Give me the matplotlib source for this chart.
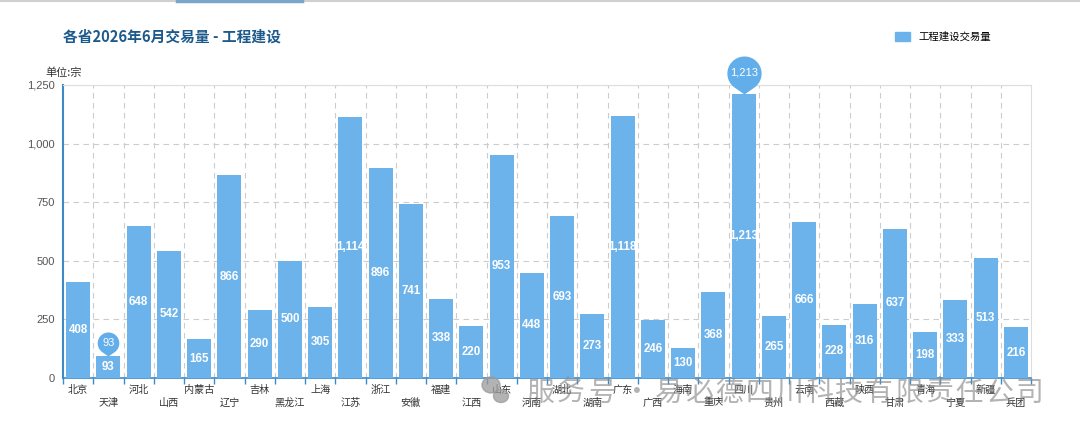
import matplotlib
matplotlib.use("Agg")
import matplotlib.pyplot as plt
import numpy as np
from matplotlib.path import Path
from matplotlib.lines import Line2D
from matplotlib.patches import Ellipse

plt.rcParams['font.family'] = ['Noto Sans CJK SC', 'DejaVu Sans']
NUMFONT = ['Liberation Sans', 'DejaVu Sans']

provinces = ["北京", "天津", "河北", "山西", "内蒙古", "辽宁", "吉林", "黑龙江", "上海", "江苏",
             "浙江", "安徽", "福建", "江西", "山东", "河南", "湖北", "湖南", "广东", "广西",
             "海南", "重庆", "四川", "贵州", "云南", "西藏", "陕西", "甘肃", "青海", "宁夏",
             "新疆", "兵团"]
values = [408, 93, 648, 542, 165, 866, 290, 500, 305, 1114,
          896, 741, 338, 220, 953, 448, 693, 273, 1118, 246,
          130, 368, 1213, 265, 666, 228, 316, 637, 198, 333,
          513, 216]
yticks = [0, 250, 500, 750, 1000, 1250]

title = "各省2026年6月交易量 - 工程建设"
series_name = "工程建设交易量"
unit = "单位:宗"
watermark_a = "服务号"
watermark_b = "易必德四川科技有限责任公司"

bar_color = "#6cb3ec"
pin_color = "#62aeea"
title_color = "#1d5a8c"

fig = plt.figure(figsize=(10.8, 4.36), dpi=100)
ax = fig.add_axes([63/1080, 1 - 378/436, (1031-63)/1080, (378-85)/436])

n = len(values)
x = np.arange(n)
ax.bar(x, values, width=0.8, color=bar_color, zorder=3)
ax.set_xlim(-0.5, n - 0.5)
ax.set_ylim(0, 1250)

# value labels
for xi, v in zip(x, values):
    ax.text(xi, v / 2, f"{v:,}", ha="center", va="center", color="white",
            fontsize=8.3, fontweight="bold", family=NUMFONT, zorder=5)

# grid
ax.set_yticks(yticks)
ax.set_yticklabels([f"{t:,}" for t in yticks], fontsize=8, color="#555555", family=NUMFONT)
for t in yticks[1:]:
    ax.axhline(t, color="#cccccc", lw=0.8, ls=(0, (5, 4)), zorder=1)
for b in np.arange(0.5, n - 0.5, 1):
    ax.axvline(b, color="#cccccc", lw=0.8, ls=(0, (5, 4)), zorder=1)

ax.tick_params(axis="y", length=0, pad=6)
ax.set_xticks(x)
ax.set_xticklabels([p if i % 2 == 0 else "\n" + p for i, p in enumerate(provinces)],
                   fontsize=7.3, color="#333333", linespacing=1.35)
ax.tick_params(axis="x", which="major", length=0, pad=5)
ax.set_xticks(np.arange(-0.5, n, 1), minor=True)
ax.tick_params(axis="x", which="minor", length=4, color="#3c8bc8", width=1)

for s in ["top", "right"]:
    ax.spines[s].set_color("#dddddd")
    ax.spines[s].set_linewidth(0.8)
ax.spines["left"].set_color("#3c8bc8")
ax.spines["left"].set_linewidth(1.5)
ax.spines["bottom"].set_color("#3c8bc8")
ax.spines["bottom"].set_linewidth(1.2)

# pin marker (tip at origin, circle above)
def pin_path(c=1.22, r=1.0):
    th = np.linspace(-np.pi/2 + np.arccos(r / c), 3 * np.pi / 2 - np.arccos(r / c), 80)
    verts = [(0, 0)] + [(r * np.cos(t), c + r * np.sin(t)) for t in th] + [(0, 0)]
    codes = [Path.MOVETO] + [Path.LINETO] * (len(verts) - 2) + [Path.CLOSEPOLY]
    return Path(verts, codes)

pp = pin_path()
imax = int(np.argmax(values))
imin = int(np.argmin(values))
for idx, hpx, fs in [(imax, 38, 8.0), (imin, 24, 8.0)]:
    ax.plot(idx, values[idx], marker=pp, markersize=2 * hpx * 0.72, color=pin_color,
            markeredgewidth=0, zorder=6, clip_on=False)
    off = hpx * 1.22 / 2.22 * 0.72
    ax.annotate(f"{values[idx]:,}", (idx, values[idx]), xytext=(0, off), textcoords="offset points",
                ha="center", va="center", color="white", fontsize=fs, family=NUMFONT,
                zorder=7, annotation_clip=False)

# title, unit, legend
fig.text(63/1080, 1 - 37/436, title, fontsize=10.6, fontweight="bold", color=title_color,
         va="center", ha="left")
fig.text(45/1080, 1 - 73/436, unit, fontsize=8, color="#333333", va="center", ha="left")
leg_handle = plt.Rectangle((0, 0), 1, 1, color=bar_color)
fig.legend([leg_handle], [series_name], loc="center left", bbox_to_anchor=(886/1080, 1 - 37/436),
           frameon=False, fontsize=7.5, handlelength=1.4, handleheight=0.9)

# top decoration line
fig.add_artist(Line2D([0, 1], [1 - 1/436, 1 - 1/436], color="#d0d0d0", lw=1.5))
fig.add_artist(Line2D([177/1080, 302/1080], [1 - 1/436, 1 - 1/436], color="#7aa6cc", lw=2.5))

# watermark (icon + spaced characters)
wm_color = "#8a8a8a"
fig.add_artist(Ellipse((491/1080, 1 - 385/436), 18/1080, 16/436, color="#9a9a9a", alpha=0.75, zorder=9))
fig.add_artist(Ellipse((501/1080, 1 - 396/436), 15/1080, 13/436, color="#9a9a9a", alpha=0.75, zorder=9))
step = 30
for k, ch in enumerate(watermark_a):
    fig.text((540 + k * 31) / 1080, 1 - 393/436, ch, fontsize=20, color=wm_color, alpha=0.65,
             va="center", ha="center", zorder=10)
fig.text(637/1080, 1 - 393/436, "·", fontsize=20, color=wm_color, alpha=0.65,
         va="center", ha="center", zorder=10)
for k, ch in enumerate(watermark_b):
    fig.text((669 + k * step) / 1080, 1 - 393/436, ch, fontsize=20, color=wm_color, alpha=0.65,
             va="center", ha="center", zorder=10)

fig.savefig("out.png", dpi=100)
